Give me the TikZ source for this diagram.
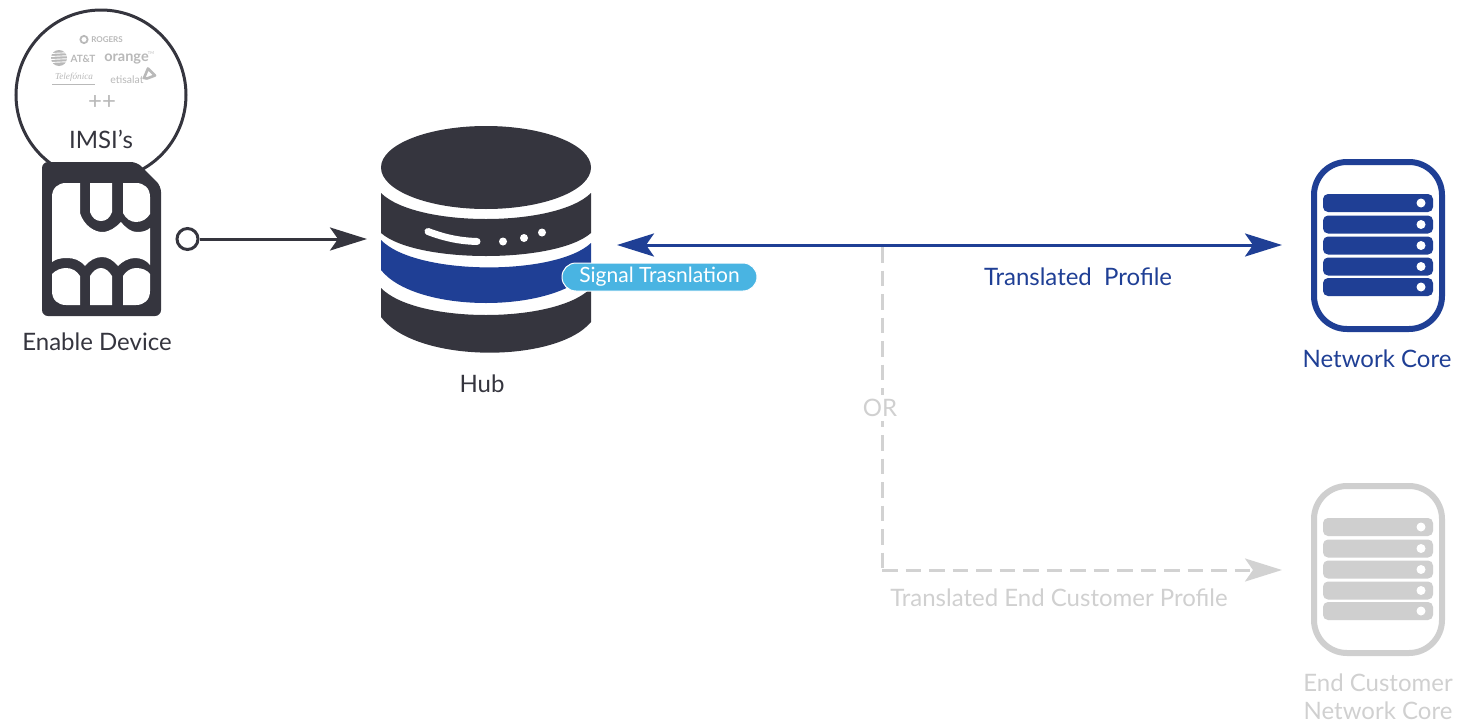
\documentclass[tikz,border=0pt]{standalone}
\usepackage{fontspec}
\setmainfont{Lato}
\newfontfamily\serifit{Liberation Serif}
\usetikzlibrary{arrows.meta}
\definecolor{ink}{HTML}{35353E}
\definecolor{navy}{HTML}{1F3F95}
\definecolor{sky}{HTML}{49B4E2}
\definecolor{mist}{HTML}{D2D2D2}
\definecolor{mistbar}{HTML}{CFCFCF}
\definecolor{logo}{HTML}{B9B9B9}
\definecolor{orlabel}{HTML}{D0D0D0}
\newcommand{\fs}[1]{\fontsize{#1}{#1}\selectfont}
\tikzset{
  x=1pt,y=-1pt,
  lbl/.style={inner sep=0pt,align=center,font=\fs{24}},
  pin/.style={inner sep=0pt,minimum size=0pt,outer sep=0pt},
  bigtip/.style={-{Stealth[length=37pt,width=23pt,inset=8pt]}},
  bigtips/.style={{Stealth[length=37pt,width=23pt,inset=8pt]}-{Stealth[length=37pt,width=23pt,inset=8pt]}},
  logotext/.style={inner sep=0pt,text=logo},
}
\newcommand{\serverbars}[2]{%
  % #1 colour, #2 downward shift
  \begin{scope}[yshift=-#2pt]
    \draw[#1,line width=6pt,rounded corners=33pt,fill=white] (1314,162) rectangle (1442,329);
    \foreach \yy in {194,215.5,236.5,257.5,278}{
      \fill[#1,rounded corners=5pt] (1323,\yy) rectangle (1433,\yy+18);
      \fill[white] (1421,\yy+9) circle[radius=4.5];
    }
  \end{scope}}
\begin{document}
\begin{tikzpicture}
\useasboundingbox (0,0) rectangle (1478,723);

% IMSI bubble
\node[circle,draw=ink,line width=3pt,fill=white,minimum size=170pt,inner sep=0pt] (bubble) at (101,95) {};
\node[logotext,font=\fs{8}\bfseries] (rogers) at (107,39.5) {ROGERS};
\draw[logo,line width=1.8pt] (84,39.5) circle[radius=3.6];
\node[logotext,font=\fs{10}\bfseries] (att) at (83,58.5) {AT\&T};
\fill[logo] (59,58) circle[radius=8];
\foreach \yy in {53.5,56.5,59.5,62.5}{\draw[white,line width=.9pt] (50,\yy) -- (68,\yy-.8);}
\node[logotext,font=\fs{14.5}\bfseries] (orange) at (126.5,59) {orange};
\node[logotext,font=\fs{4}] (tm) at (151,53) {TM};
\node[logotext,font=\fs{9.2}\serifit\itshape] (tele) at (74,77.5) {Telefónica};
\draw[logo,line width=.5pt] (52,84) -- (95,84);
\node[logotext,font=\fs{10.5}] (etis) at (127,80) {etisalat};
\draw[logo,line width=2.6pt,line join=round,fill=white] (144,78) -- (148,68.5) -- (155,75.5) -- (147,78.5) -- cycle;
\node[logotext,font=\fs{24}] (plus) at (102,102.5) {++};
\node[lbl,text=ink,font=\fs{24}] (imsi) at (101,139) {IMSI’s};

% SIM card
\fill[ink,rounded corners=6pt] (42,162) -- (137,162) -- (161,186) -- (161,316) -- (42,316) -- cycle;
\fill[white] (80,183) -- (80,213) .. controls (84,226) and (95,232) .. (102,232)
  .. controls (110,232) and (116,227) .. (121,222)
  .. controls (126,228) and (131,232) .. (137,232)
  .. controls (142,232) and (147,231) .. (150,228)
  -- (150,265) .. controls (146,260) and (141,258) .. (135,258)
  .. controls (128,258) and (122,262) .. (118,266)
  .. controls (113,260) and (108,257) .. (102,257)
  .. controls (95,257) and (89,261) .. (85,266)
  .. controls (80,260) and (74,258) .. (67,258)
  .. controls (61,258) and (56,259) .. (52,262)
  -- (52,197) .. controls (52,188) and (58,183) .. (66,183) -- cycle;
\fill[white] (90,183) -- (90,212) .. controls (92,218) and (96,221) .. (101,221)
  .. controls (106,221) and (110,218) .. (112,212) -- (112,183) -- cycle;
\fill[white] (123,183) -- (123,213) .. controls (126,219) and (131,222) .. (136,222)
  .. controls (142,222) and (147,219) .. (150,214) -- (150,197) .. controls (150,188) and (144,183) .. (136,183) -- cycle;
\fill[white] (52,274) .. controls (56,270) and (61,268) .. (66,268)
  .. controls (72,268) and (77,271) .. (80,276) -- (80,305) -- (66,305)
  .. controls (58,305) and (52,300) .. (52,291) -- cycle;
\fill[white] (90,276) .. controls (93,271) and (97,268) .. (101,268)
  .. controls (105,268) and (109,271) .. (112,276) -- (112,305) -- (90,305) -- cycle;
\fill[white] (123,276) .. controls (126,271) and (131,268) .. (136,268)
  .. controls (142,268) and (147,270) .. (150,274) -- (150,291)
  .. controls (150,300) and (144,305) .. (136,305) -- (123,305) -- cycle;
\node[lbl,text=ink] (enable) at (97,342) {Enable Device};

% Hub
\fill[ink] (486,167.5) ellipse[x radius=105,y radius=41.5];
\fill[ink] (381,193) .. controls (416,227.67) and (556,227.67) .. (591,193)
  -- (591,233) .. controls (556,263.67) and (416,263.67) .. (381,233) -- cycle;
\fill[navy] (381,240) .. controls (416,276) and (556,276) .. (591,243)
  -- (591,270) .. controls (556,314) and (416,314) .. (381,270) -- cycle;
\fill[ink] (381,288) .. controls (416,324) and (556,324) .. (591,288)
  -- (591,322) .. controls (556,363.7) and (416,363.7) .. (381,317) -- cycle;
\draw[white,line width=7pt,line cap=round] (428,231.5) .. controls (445,238) and (460,241) .. (477,241.5);
\fill[white] (503,241.5) circle[radius=4];
\fill[white] (524,238) circle[radius=4];
\fill[white] (542,232.5) circle[radius=4];
\node[lbl,text=ink] (hub) at (482,384) {Hub};

% Servers
\serverbars{navy}{0}
\serverbars{mistbar}{324}
\node[lbl,text=navy] (core) at (1377,359) {Network Core};
\node[lbl,text=orlabel] (endcore) at (1378,696.5) {End Customer\\[3.5pt]Network Core};

% Connector end points
\node[circle,draw=ink,line width=3pt,minimum size=21pt,inner sep=0pt] (port) at (187.5,239) {};
\node[pin] (hubIn) at (367,239) {};
\node[pin] (hubOut) at (617,245) {};
\node[pin] (coreIn) at (1282,245) {};
\node[pin] (branch) at (882,247) {};
\node[pin] (corner) at (882,570) {};
\node[pin] (endIn) at (1282,570) {};

\draw[ink,line width=3pt,bigtip] (port) -- (hubIn);
\draw[mist,line width=3pt,dash pattern=on 15.5pt off 8pt,bigtip] (branch) -- (corner) -- (endIn);
\draw[navy,line width=3pt,bigtips] (hubOut) -- (coreIn);

% Labels
\node[draw=white,line width=1pt,fill=sky,rounded corners=14pt,minimum width=195pt,minimum height=28pt,inner sep=0pt,text=white,font=\fs{21}] (signal) at (659.5,277) {\raisebox{-1.5pt}{Signal Trasnlation}};
\node[lbl,text=navy] (profile) at (1078,277) {Translated\ \ Profile};
\node[lbl,text=orlabel,fill=white,inner ysep=4pt,inner xsep=3pt] (or) at (880,408) {OR};
\node[lbl,text=orlabel] (endprofile) at (1059,598) {Translated End Customer Profile};
\end{tikzpicture}
\end{document}
